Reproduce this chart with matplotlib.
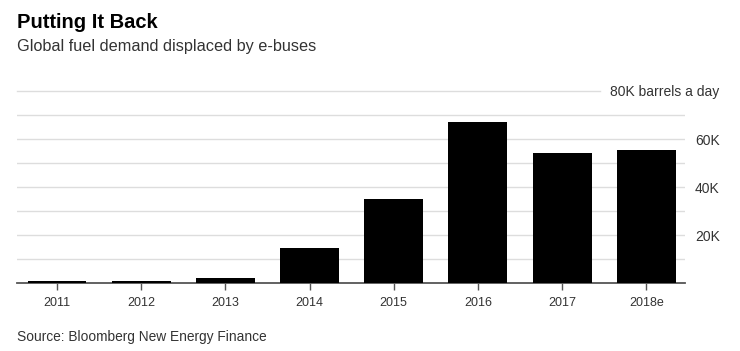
import numpy as np
import matplotlib.pyplot as plt

# values in thousands of barrels a day
years = ['2011', '2012', '2013', '2014', '2015', '2016', '2017', '2018e']
demand_k = [0.9, 0.8, 2.1, 14.7, 35.0, 67.2, 54.1, 55.6]
ytick_vals = [20, 40, 60, 80]
ytick_labels = ['20K', '40K', '60K', '80K barrels a day']

plt.rcParams['font.family'] = ['Liberation Sans', 'DejaVu Sans']

fig = plt.figure(figsize=(7.4, 3.51), dpi=100)
ax = fig.add_axes([17 / 740, 67.7 / 351, (685 - 17) / 740, (283.3 - 91) / 351])

x = np.arange(len(years))
ax.bar(x, demand_k, width=0.7, color='black', zorder=5)

ax.set_xlim(-0.475, 7.46)
ax.set_ylim(0, 80)

# gridlines every 10K, labels every 20K
for v in range(10, 90, 10):
    if v == 80:
        continue
    ax.axhline(v, color='#dddddd', lw=1.0, zorder=1)
ax.plot([-0.475, (600 - 56.7) / 84.2], [80, 80], color='#dddddd', lw=1.0,
        clip_on=False, zorder=1)

ax.set_xticks(x)
ax.set_xticklabels(years, fontsize=9, color='#333333')
ax.tick_params(axis='x', length=5, width=1, color='#555555', pad=5)

ax.yaxis.tick_right()
ax.set_yticks(ytick_vals)
ax.set_yticklabels(ytick_labels, fontsize=10, color='#333333')
ax.tick_params(axis='y', length=0, pad=25)
for lab in ax.get_yticklabels():
    lab.set_horizontalalignment('right')

for s in ['top', 'left', 'right']:
    ax.spines[s].set_visible(False)
ax.spines['bottom'].set_color('#555555')
ax.spines['bottom'].set_linewidth(1.3)
ax.spines['bottom'].set_zorder(2)

fig.text(17 / 740, 1 - 23 / 351, 'Putting It Back', fontsize=14.5, fontweight='bold',
         va='center', ha='left', color='black')
fig.text(17 / 740, 1 - 47 / 351, 'Global fuel demand displaced by e-buses',
         fontsize=11.7, va='center', ha='left', color='#333333')
fig.text(17 / 740, 1 - 337 / 351, 'Source: Bloomberg New Energy Finance',
         fontsize=9.9, va='center', ha='left', color='#333333')

fig.savefig('out.png', dpi=100, facecolor='white')
